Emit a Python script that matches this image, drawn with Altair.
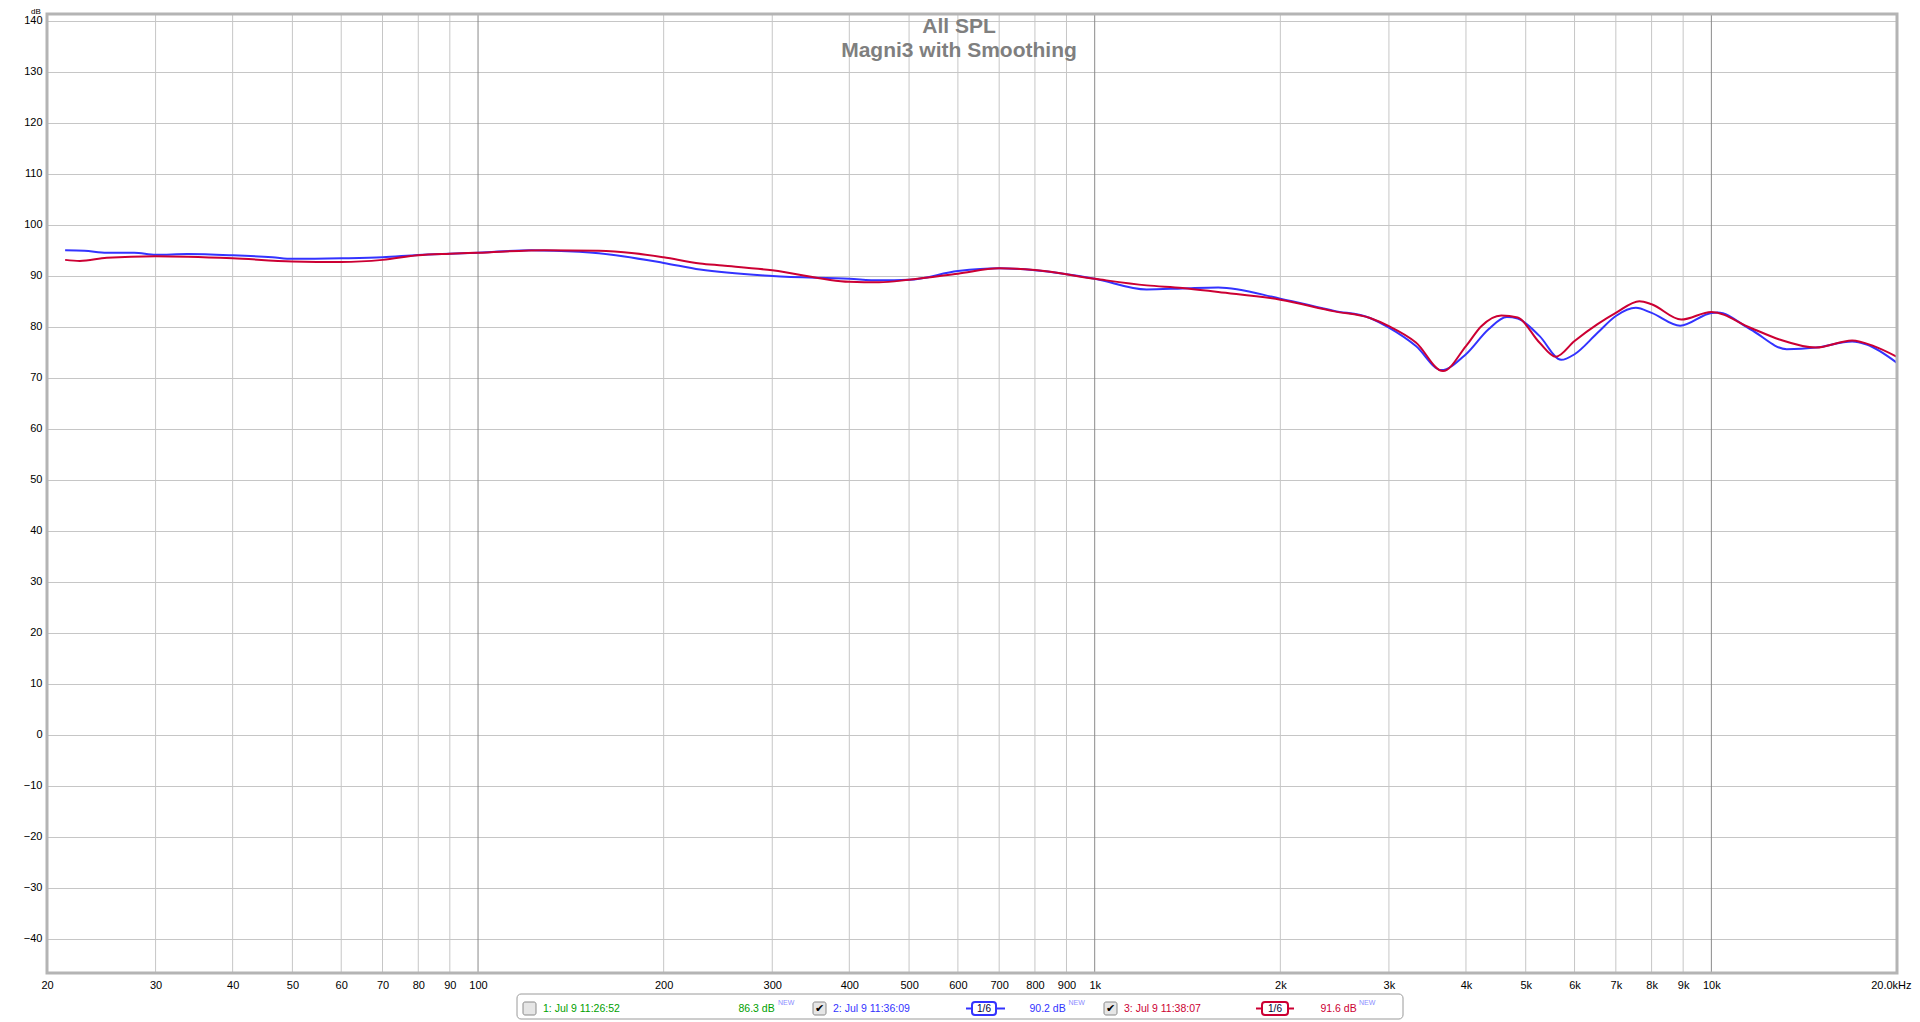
import altair as alt
import pandas as pd

FONT = "Liberation Sans"

# ---- data ----
blue_freq = [21.4, 23.0, 25.0, 27.7, 30, 33.8, 40, 46.4, 50, 60, 70, 80, 90, 100, 122, 133, 157, 200, 229,
             300, 400, 447, 500, 600, 700, 800, 1000, 1214, 1388, 1586, 2000, 2447, 2795, 3000, 3318, 3648,
             4000, 4352, 4658, 4852, 5262, 5708, 6000, 6538, 7000, 7544, 8000, 8900, 10000, 10234, 11568,
             13250, 14770, 16916, 17860, 20000]
blue_db = [95.0, 94.9, 94.5, 94.5, 94.1, 94.25, 94.0, 93.6, 93.3, 93.4, 93.6, 94.05, 94.3, 94.5, 95.0, 94.9,
           94.4, 92.5, 91.2, 89.95, 89.4, 89.1, 89.2, 90.9, 91.45, 91.06, 89.4, 87.3, 87.5, 87.7, 85.5, 83.1,
           81.7, 79.8, 76.2, 71.5, 74.6, 79.5, 81.9, 81.6, 78.2, 73.5, 74.6, 78.8, 82.1, 83.7, 82.7, 80.2,
           82.7, 82.8, 79.5, 75.6, 75.9, 77.1, 76.5, 72.9]

red_freq = [21.4, 22.6, 25.0, 30, 40, 50, 60, 70, 80, 90, 100, 128, 157, 179, 200, 229, 249, 300, 400, 447,
            500, 600, 700, 800, 1000, 1214, 1388, 1586, 2000, 2447, 2795, 3000, 3318, 3672, 4000, 4236, 4564,
            4852, 5262, 5594, 6000, 6538, 7000, 7644, 8000, 8936, 10000, 11568, 12894, 14770, 16916, 18346,
            20000]
red_db = [93.1, 92.9, 93.5, 93.8, 93.4, 92.8, 92.7, 93.1, 94.0, 94.3, 94.5, 95.0, 94.9, 94.4, 93.6, 92.4,
          92.0, 91.06, 88.8, 88.7, 89.2, 90.4, 91.45, 91.1, 89.4, 88.1, 87.6, 86.8, 85.3, 83.0, 81.7, 80.1,
          76.9, 71.3, 76.2, 80.1, 82.2, 81.8, 76.9, 74.1, 77.2, 80.5, 82.7, 85.0, 84.4, 81.4, 82.9, 79.8,
          77.5, 75.9, 77.3, 76.2, 74.1]

x_ticks = [20, 30, 40, 50, 60, 70, 80, 90, 100, 200, 300, 400, 500, 600, 700, 800, 900, 1000,
           2000, 3000, 4000, 5000, 6000, 7000, 8000, 9000, 10000, 20000]
x_labels = ["20", "30", "40", "50", "60", "70", "80", "90", "100", "200", "300", "400", "500", "600",
            "700", "800", "900", "1k", "2k", "3k", "4k", "5k", "6k", "7k", "8k", "9k", "10k", "20.0kHz"]
major_grid = [100, 1000, 10000]
minor_grid = [v for v in x_ticks if v not in major_grid and v not in (20, 20000)]
y_ticks = list(range(-40, 150, 10))

title_lines = ["All SPL", "Magni3 with Smoothing"]
legend_names = ["1: Jul 9 11:26:52", "2: Jul 9 11:36:09", "3: Jul 9 11:38:07"]
legend_levels = ["86.3 dB", "90.2 dB", "91.6 dB"]
legend_colors = ["#00a000", "#3333ff", "#cc0033"]

W, H = 1850, 959
BLUE, RED = "#3333ff", "#cc0033"

label_map = "{" + ",".join(f"'{v}':'{l}'" for v, l in zip(x_ticks, x_labels)) + "}"
xscale = alt.Scale(type="log", domain=[20, 20000], nice=False)
yscale = alt.Scale(domain=[-46.7, 141.3], nice=False, zero=False)
xaxis = alt.Axis(values=x_ticks, labelExpr=f"{label_map}[datum.value]", grid=False, ticks=False,
                 domain=False, labelFontSize=11, labelFont=FONT, labelColor="#000000", labelPadding=6,
                 labelOverlap=False, labelFlush=False, title=None,
                 labelAlign={"condition": {"test": "datum.value >= 20000", "value": "right"},
                             "value": "center"},
                 labelOffset={"condition": {"test": "datum.value >= 20000", "value": 14},
                              "value": 0})
yaxis = alt.Axis(values=y_ticks, grid=True, gridColor="#c6c6c6", gridWidth=1, ticks=False, domain=False,
                 labelFontSize=11, labelFont=FONT, labelColor="#000000", labelPadding=5, title=None)

blue_df = pd.DataFrame({"f": blue_freq, "db": blue_db})
red_df = pd.DataFrame({"f": red_freq, "db": red_db})

minor = alt.Chart(pd.DataFrame({"f": minor_grid})).mark_rule(color="#c6c6c6", strokeWidth=1).encode(
    x=alt.X("f:Q", scale=xscale, axis=xaxis))
major = alt.Chart(pd.DataFrame({"f": major_grid})).mark_rule(color="#8a8a8a", strokeWidth=1).encode(
    x=alt.X("f:Q", scale=xscale, axis=xaxis))

def curve(df, color):
    return alt.Chart(df).mark_line(color=color, strokeWidth=2, interpolate="monotone").encode(
        x=alt.X("f:Q", scale=xscale, axis=xaxis),
        y=alt.Y("db:Q", scale=yscale, axis=yaxis))

one = pd.DataFrame({"a": [0]})

def box(x1, x2, y1, y2, stroke, fill="white", sw=1, r=0):
    return alt.Chart(one).mark_rect(fill=fill, stroke=stroke, strokeWidth=sw, cornerRadius=r).encode(
        x=alt.value(x1), x2=alt.value(x2), y=alt.value(y1), y2=alt.value(y2))

def txt(s, x, y, color, size=10.5, align="left", weight="normal", baseline="middle"):
    return alt.Chart(pd.DataFrame({"t": [s]})).mark_text(
        align=align, baseline=baseline, color=color, fontSize=size, font=FONT, fontWeight=weight
    ).encode(text="t:N", x=alt.value(x), y=alt.value(y))

def hline(x1, x2, y, color, sw=2):
    return alt.Chart(one).mark_rule(color=color, strokeWidth=sw).encode(
        x=alt.value(x1), x2=alt.value(x2), y=alt.value(y))

border = box(0, W, 0, H, "#b4b4b4", fill="transparent", sw=3)

layers = [minor, major, curve(blue_df, BLUE), curve(red_df, RED), border]

# title
layers.append(txt(title_lines[0], 912, 19, "#7f7f7f", size=21, align="center", weight="bold",
                  baseline="alphabetic"))
layers.append(txt(title_lines[1], 912, 43, "#7f7f7f", size=21, align="center", weight="bold",
                  baseline="alphabetic"))
layers.append(txt("dB", -11, -6, "#000000", size=8, align="center", baseline="top"))

# legend box
ly = 994.5
layers.append(box(470, 1356, 980, 1005, "#9a9a9a", r=4))
checks = [476, 766, 1057]
names_x = [496, 786, 1077]
levels_x = [691.5, 982.5, 1273.5]
new_x = [731, 1021.5, 1312]
for i in range(3):
    cx = checks[i]
    layers.append(box(cx, cx + 13, ly - 6.5, ly + 6.5, "#8a8a8a", fill="#e6e6e6", r=2))
    if i > 0:
        layers.append(txt("\u2714", cx + 6.5, ly + 0.5, "#000000", size=11, align="center"))
    layers.append(txt(legend_names[i], names_x[i], ly, legend_colors[i]))
    layers.append(txt(legend_levels[i], levels_x[i], ly, legend_colors[i]))
    layers.append(txt("NEW", new_x[i], ly - 6, "#8c8cff", size=7))

for (lx1, lx2, bx1, bx2, col) in [(919, 958, 925, 949, BLUE), (1209, 1247, 1215, 1241, RED)]:
    layers.append(hline(lx1, lx2, ly, col))
    layers.append(box(bx1, bx2, ly - 6.5, ly + 6.5, col, sw=2, r=3))
    layers.append(txt("1/6", (bx1 + bx2) / 2, ly, "#000033", size=10, align="center"))

chart = alt.layer(*layers).properties(
    width=W, height=H,
    autosize=alt.AutoSizeParams(type="none"),
    padding={"left": 39, "top": 6, "right": 15, "bottom": 48},
    background="white",
).configure_view(stroke=None)

chart.save("out.html", embed_options={"renderer": "svg", "actions": False})
